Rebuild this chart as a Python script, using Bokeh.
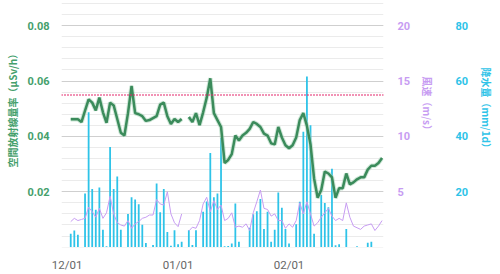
import numpy as np
import pandas as pd
from bokeh.plotting import figure
from bokeh.models import (Range1d, LinearAxis, FixedTicker, DatetimeTickFormatter, Span,
                          ColumnDataSource, Title)
from bokeh.embed import file_html
from bokeh.resources import INLINE

# ---- data ----
dates = pd.date_range("2023-12-02", periods=88, freq="D")

radiation = [
    0.0462, 0.0462, 0.0462, 0.0452, 0.0493, 0.0534, 0.0522, 0.0494, 0.0540, 0.0487,
    0.0449, 0.0522, 0.0512, 0.0463, 0.0413, 0.0403, 0.0484, 0.0582, 0.0484, 0.0480,
    0.0473, 0.0456, 0.0459, 0.0466, 0.0473, 0.0515, 0.0522, 0.0473, 0.0445, 0.0463,
    0.0452, 0.0463, np.nan, 0.0470, 0.0452, 0.0484, 0.0441, 0.0487, 0.0540, 0.0610,
    0.0484, 0.0459, 0.0434, 0.0304, 0.0315, 0.0336, 0.0403, 0.0385, 0.0403, 0.0413,
    0.0427, 0.0452, 0.0445, 0.0434, 0.0410, 0.0403, 0.0375, 0.0371, 0.0434, 0.0396,
    0.0368, 0.0357, 0.0368, 0.0396, 0.0459, 0.0484, 0.0438, 0.0371, 0.0248, 0.0178,
    0.0206, 0.0273, 0.0266, 0.0252, 0.0178, 0.0213, 0.0213, 0.0266, 0.0227, 0.0234,
    0.0245, 0.0252, 0.0252, 0.0280, 0.0294, 0.0294, 0.0304, 0.0322,
]

rain = [
    4.8, 6.0, 4.5, 0.0, 19.4, 48.7, 21.0, 13.5, 21.5, 6.3,
    0.3, 36.2, 21.0, 25.5, 6.3, 0.0, 12.0, 18.0, 17.2, 15.5,
    8.1, 1.5, 0.0, 0.8, 23.0, 12.6, 21.0, 5.5, 0.5, 6.1,
    1.0, 1.9, 0.0, 6.1, 0.8, 6.1, 0.0, 12.8, 16.5, 34.0,
    18.0, 19.4, 39.5, 0.3, 0.4, 1.3, 15.8, 1.9, 0.0, 0.0,
    7.0, 11.9, 13.0, 17.4, 6.5, 12.8, 1.9, 6.3, 19.7, 14.2,
    6.5, 1.3, 0.0, 8.3, 16.4, 41.7, 61.6, 44.0, 4.8, 0.0,
    18.8, 15.9, 14.4, 28.3, 0.7, 1.0, 0.0, 6.5, 0.0, 0.0,
    0.3, 0.0, 0.0, 1.6, 1.9, 0.0, 0.0, 0.0,
]

wind = [
    2.3, 2.6, 2.4, 2.5, 2.6, 3.6, 3.2, 2.7, 3.5, 2.6,
    3.1, 4.6, 3.0, 2.2, 2.0, 1.9, 2.4, 1.7, 2.1, 2.3,
    2.6, 2.7, 2.9, 2.9, 4.3, 3.9, 3.8, 5.0, 3.0, 2.2,
    1.85, 3.0, np.nan, 1.45, 1.8, 1.7, 2.4, 3.9, 4.5, 3.2,
    4.2, 3.4, 3.8, 2.4, 2.6, 3.1, 1.8, 1.9, 1.8, 2.1,
    1.5, 3.1, 4.1, 5.15, 3.5, 3.4, 2.8, 3.0, 2.4, 2.4,
    1.7, 2.1, 1.8, 2.4, 4.0, 3.0, 4.1, 3.0, 1.9, 2.2,
    2.7, 3.1, 3.5, 2.8, 2.4, 2.6, 2.4, 4.0, 2.7, 1.9,
    1.75, 1.6, 1.9, 2.0, 2.1, 1.5, 1.9, 2.4,
]

threshold = 0.055
x_tick_dates = ["2023-12-01", "2024-01-01", "2024-02-01"]
rad_ticks = [0.02, 0.04, 0.06, 0.08]
wind_ticks = [5, 10, 15, 20]
rain_ticks = [20, 40, 60, 80]
rad_label = "空間放射線量率（μSv/h）"
wind_label = "風速（m/s）"
rain_label = "降水量（mm/1d）"

GREEN = "#3b8b5b"
GREEN_TXT = "#45a06c"
PURPLE = "#c79cf2"
CYAN = "#2ec3e8"

src = ColumnDataSource(dict(date=dates, radiation=radiation, rain=rain, wind=wind))

origin = pd.Timestamp("2023-12-01")
x_range = Range1d(start=origin - pd.Timedelta(days=1.58), end=origin + pd.Timedelta(days=88.4))

p = figure(width=500, height=274, x_axis_type="datetime", x_range=x_range,
           y_range=Range1d(-0.00014, 0.0891),
           output_backend="svg", toolbar_location=None,
           min_border_left=58, min_border_right=100, min_border_top=0, min_border_bottom=20)
p.outline_line_color = None
p.background_fill_color = "white"
p.border_fill_color = "white"

p.extra_y_ranges = {"wind": Range1d(-0.035, 22.28), "rain": Range1d(-0.14, 89.1)}

# bars (rain)
p.vbar(x="date", top="rain", width=0.5 * 86400000, bottom=0, source=src,
       y_range_name="rain", fill_color=CYAN, line_color=None)
# wind line
p.line(x="date", y="wind", source=src, y_range_name="wind", line_color=PURPLE, line_width=1)
# radiation line
p.line(x="date", y="radiation", source=src, line_color="#9fd0b2", line_width=4.5, line_alpha=0.5)
p.line(x="date", y="radiation", source=src, line_color=GREEN, line_width=2.5)

p.add_layout(Span(location=threshold, dimension="width", line_color="#e3266a",
                  line_width=2, line_dash="1 2"))


def style_axis(ax, col, lstand):
    ax.major_label_text_color = col
    ax.major_label_text_font = "Roboto"
    ax.major_label_text_font_style = "bold"
    ax.major_label_text_font_size = "11px"
    ax.major_label_standoff = lstand
    ax.axis_line_color = None
    ax.major_tick_line_color = None
    ax.minor_tick_line_color = None


def side_title(text, col, offset, standoff):
    return Title(text=text, align="left", offset=offset, vertical_align="middle",
                 text_color=col, text_font="Noto Sans CJK JP", text_font_style="bold",
                 text_font_size="10px", standoff=standoff)


# left axis
ya = p.yaxis[0]
ya.ticker = FixedTicker(ticks=rad_ticks, minor_ticks=[round(i * 0.004, 3) for i in range(23)])
style_axis(ya, GREEN_TXT, 6)
p.add_layout(side_title(rad_label, GREEN_TXT, 80, 7), "left")

p.ygrid.grid_line_color = "#cfcfcf"
p.ygrid.grid_line_width = 1
p.ygrid.minor_grid_line_color = "#ebebeb"
p.xgrid.grid_line_color = None

# wind axis
wa = LinearAxis(y_range_name="wind", ticker=FixedTicker(ticks=wind_ticks))
style_axis(wa, PURPLE, 8)
p.add_layout(wa, "right")
p.add_layout(side_title(wind_label, PURPLE, 76, 10), "right")

# rain axis
ra = LinearAxis(y_range_name="rain", ticker=FixedTicker(ticks=rain_ticks))
style_axis(ra, CYAN, 9)
p.add_layout(ra, "right")
p.add_layout(side_title(rain_label, CYAN, 67, 12), "right")

# x axis
xa = p.xaxis[0]
xa.ticker = FixedTicker(ticks=[pd.Timestamp(t).value / 1e6 for t in x_tick_dates])
xa.formatter = DatetimeTickFormatter(days="%m/%d", months="%m/%d", years="%m/%d",
                                     hours="%m/%d", minutes="%m/%d")
xa.major_label_text_color = "#666666"
xa.major_label_text_font = "Roboto"
xa.major_label_text_font_size = "11.5px"
xa.major_label_standoff = 4
xa.axis_line_color = None
xa.major_tick_line_color = None
xa.minor_tick_line_color = None

open("out.html", "w").write(file_html(p, INLINE))
